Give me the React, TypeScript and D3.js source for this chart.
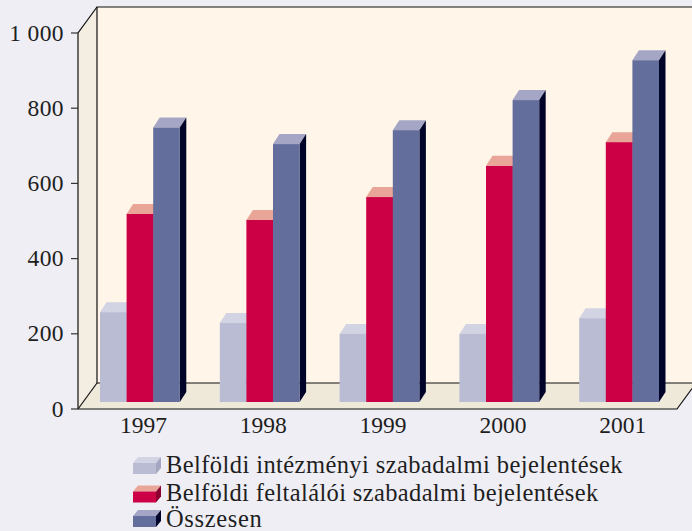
import React from "react";
import * as d3 from "d3";

const years = ["1997", "1998", "1999", "2000", "2001"];
const institutional = [239, 210, 181, 181, 223];
const inventor = [500, 484, 545, 628, 691];
const total = [730, 686, 723, 803, 909];
const axisTicks = [0, 200, 400, 600, 800, 1000];
const seriesNames = [
  "Belföldi intézményi szabadalmi bejelentések",
  "Belföldi feltalálói szabadalmi bejelentések",
  "Összesen",
];
const seriesValues = [institutional, inventor, total];
const faceColors = ["#BABCD4", "#CC0044", "#636E9C"];
const topColors = ["#D2D3E3", "#E9A598", "#A5A6C5"];
const sideColors = ["#A4A6C2", "#8C0030", "#000428"];

const W = 692, H = 531;
const font = "'Liberation Serif', serif";
const textColor = "#1e1e1e";
const depthX = 19, depthY = 26;
const axisX = 78;
const yAxis = d3.scaleLinear().domain([0, 1000]).range([409, 33]);
const yBar = d3.scaleLinear().domain([0, 1000]).range([402, 26]);
const xGroup = d3.scaleBand<string>().domain(years).range([100, 100 + 119.8 * 5]).paddingInner(0).paddingOuter(0);
const barW = 26.6;
const bx = 6.5, by = 10;

function Block({ x, y, w, y0, i, dx = bx, dy = by }: { x: number; y: number; w: number; y0: number; i: number; dx?: number; dy?: number }) {
  return (
    <g>
      <path d={`M${x},${y}L${x + dx},${y - dy}H${x + w + dx}L${x + w},${y}Z`} fill={topColors[i]} />
      <path d={`M${x + w},${y}L${x + w + dx},${y - dy}V${y0 - dy}L${x + w},${y0}Z`} fill={sideColors[i]} />
      <rect x={x} y={y} width={w} height={y0 - y} fill={faceColors[i]} />
    </g>
  );
}

export default function App() {
  const y1000 = yAxis(1000), y0 = yAxis(0);
  return (
    <svg width={W} height={H} viewBox={`0 0 ${W} ${H}`} style={{ position: "fixed", left: 0, top: 0, display: "block" }}>
      <rect width={W} height={H} fill="#EEEEF4" />
      <rect x={axisX + depthX} y={y1000 - depthY} width={W - axisX - depthX} height={y0 - y1000} fill="#FFF5E9" />
      <path d={`M${axisX},${y1000}L${axisX + depthX},${y1000 - depthY}V${y0 - depthY}L${axisX},${y0}Z`} fill="#F4EEE2" />
      <path d={`M${axisX},${y0}L${axisX + depthX},${y0 - depthY}H${W}V${y0 - 20.5}L677,${y0}Z`} fill="#EFE9DA" />
      <g stroke="#111" strokeWidth={1.2} fill="none">
        <path d={`M${W},${y1000 - depthY}H${axisX + depthX}V${y0 - depthY}H${W}`} />
        <path d={`M${axisX},${y0}V${y1000}L${axisX + depthX},${y1000 - depthY}`} />
        <path d={`M${axisX},${y0}L${axisX + depthX},${y0 - depthY}`} />
        <path d={`M${axisX},${y0}H677L${W},${y0 - 20.5}`} />
      </g>
      {axisTicks.map((t) => (
        <g key={t}>
          <line x1={71} x2={axisX} y1={yAxis(t)} y2={yAxis(t)} stroke="#333" strokeWidth={1.2} />
          <text x={64} y={yAxis(t) + 7.5} textAnchor="end" fontFamily={font} fontSize={23.5} letterSpacing={0.4} fill={textColor} xmlSpace="preserve">
            {t === 1000 ? "1 000" : String(t)}
          </text>
        </g>
      ))}
      {years.map((yr, k) => (
        <g key={yr}>
          {seriesValues.map((vals, i) => (
            <Block key={i} x={xGroup(yr)! + i * barW} w={barW + (i < 2 ? 0.3 : 0)} y={yBar(vals[k])} y0={yBar(0)} i={i} />
          ))}
          <text x={xGroup(yr)! + 43.5} y={433} textAnchor="middle" fontFamily={font} fontSize={23.5} fill={textColor}>{yr}</text>
        </g>
      ))}
      {seriesNames.map((name, i) => {
        const top = [463, 491.5, 516][i];
        return (
          <g key={name}>
            <Block x={133} y={top} w={23} y0={top + 11} i={i} dx={5} dy={6} />
            <text x={166} y={[473, 501, 526.5][i]} fontFamily={font} fontSize={24.5} letterSpacing={[0.42, 0.36, 0.65][i]} fill={textColor}>{name}</text>
          </g>
        );
      })}
    </svg>
  );
}
